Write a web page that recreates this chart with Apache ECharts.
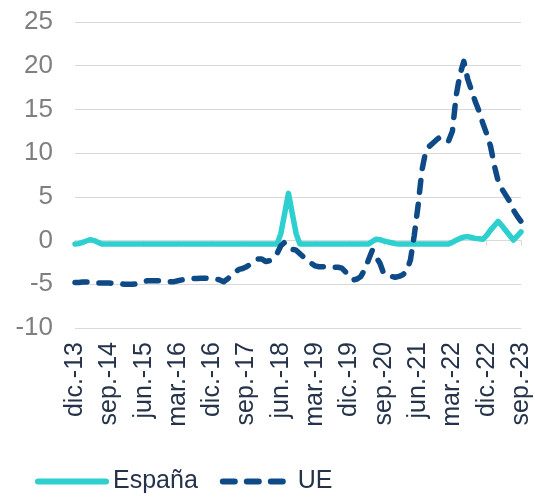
<!DOCTYPE html>
<html>
<head>
<meta charset="utf-8">
<script src="https://cdn.jsdelivr.net/npm/echarts@6/dist/echarts.min.js"></script>
<style>
  html, body { margin: 0; padding: 0; background: #fff; }
  #chart { width: 535px; height: 501px; }
</style>
</head>
<body>
<div id="chart"></div>
<script>
// meses dic.-13 ... sep.-23 (mensual)
const monthNames = ['ene.', 'feb.', 'mar.', 'abr.', 'may.', 'jun.', 'jul.', 'ago.', 'sep.', 'oct.', 'nov.', 'dic.'];
const startYear = 2013;
const startMonth = 11; // dic.
const nMonths = 118;

const categories = [];
for (let i = 0; i < nMonths; i++) {
  const m = (startMonth + i) % 12;
  const y = startYear + Math.floor((startMonth + i) / 12);
  categories.push(monthNames[m] + '-' + String(y).slice(2));
}

const espana = [
  -0.4, -0.35, -0.2, -0.05, 0.1, 0.0, -0.2, -0.4, -0.4, -0.4, -0.4, -0.4,
  -0.4, -0.4, -0.4, -0.4, -0.4, -0.4, -0.4, -0.4, -0.4, -0.4, -0.4, -0.4,
  -0.4, -0.4, -0.4, -0.4, -0.4, -0.4, -0.4, -0.4, -0.4, -0.4, -0.4, -0.4,
  -0.4, -0.4, -0.4, -0.4, -0.4, -0.4, -0.4, -0.4, -0.4, -0.4, -0.4, -0.4,
  -0.4, -0.4, -0.4, -0.4, -0.4, -0.4, 0.8, 3.1, 5.4, 3.1, 0.8, -0.4,
  -0.4, -0.4, -0.4, -0.4, -0.4, -0.4, -0.4, -0.4, -0.4, -0.4, -0.4, -0.4,
  -0.4, -0.4, -0.4, -0.4, -0.4, -0.4, -0.1, 0.15, 0.1, -0.05, -0.15, -0.25,
  -0.35, -0.4, -0.4, -0.4, -0.4, -0.4, -0.4, -0.4, -0.4, -0.4, -0.4, -0.4,
  -0.4, -0.4, -0.4, -0.2, 0.05, 0.25, 0.4, 0.45, 0.35, 0.25, 0.2, 0.15,
  0.6, 1.2, 1.7, 2.2, 1.7, 1.15, 0.6, 0.05, 0.5, 1.0
];

const ue = [
  -4.8, -4.8, -4.75, -4.75, -4.75, -4.8, -4.85, -4.85, -4.85, -4.85, -4.9, -4.9,
  -4.95, -5.0, -5.0, -5.0, -4.95, -4.85, -4.7, -4.6, -4.6, -4.6, -4.6, -4.6,
  -4.65, -4.7, -4.7, -4.6, -4.5, -4.45, -4.4, -4.35, -4.35, -4.3, -4.3, -4.35,
  -4.35, -4.4, -4.5, -4.7, -4.4, -4.0, -3.6, -3.3, -3.2, -3.0, -2.7, -2.4,
  -2.1, -2.1, -2.4, -2.3, -2.1, -1.5, -0.6, -0.2, -0.5, -1.0, -1.1, -1.5,
  -1.9, -2.3, -2.6, -2.9, -3.0, -3.0, -3.0, -3.0, -3.05, -3.05, -3.15, -3.6,
  -4.1, -4.5, -4.4, -4.1, -3.3, -2.2, -1.1, -1.9, -2.6, -3.8, -4.0, -4.1,
  -4.2, -4.1, -3.9, -3.5, -2.2, 0.6, 4.0, 8.0, 10.2, 10.8, 11.2, 11.6,
  11.9, 11.6, 11.4, 12.5, 16.6, 19.0, 20.5, 18.5, 17.2, 15.9, 14.8, 13.4,
  12.2, 10.8, 8.6, 6.8, 5.9, 5.2, 4.5, 3.5, 2.8, 2.2
];

const yMin = -10;
const yMax = 25;
const yStep = 5;

const font = "'Liberation Sans', Arial, sans-serif";
const chart = echarts.init(document.getElementById('chart'));

const option = {
  animation: false,
  grid: { left: 75, right: 14, top: 22, bottom: 173 },
  legend: {
    bottom: 2,
    left: 30,
    itemWidth: 68,
    itemHeight: 14,
    itemGap: 22,
    itemStyle: { opacity: 0 }, // sin símbolo en la leyenda
    lineStyle: { width: 6 },
    textStyle: { fontFamily: font, fontSize: 25, color: '#24324a', padding: [0, 0, 0, 2] },
    data: ['España', 'UE']
  },
  xAxis: [
    {
      type: 'category',
      data: categories,
      boundaryGap: false,
      axisLine: { show: false, onZero: false },
      axisTick: { show: false },
      axisLabel: {
        interval: 8,
        rotate: 90,
        margin: 14,
        fontFamily: font,
        fontSize: 25,
        color: '#24324a'
      },
      splitLine: { show: false }
    },
    {
      // eje en el cero: solo línea y marcas
      type: 'category',
      data: categories,
      boundaryGap: false,
      position: 'top',
      axisLine: { show: true, onZero: true, lineStyle: { color: '#d9d9d9', width: 1 } },
      axisTick: { show: true, inside: true, interval: 8, length: 5, lineStyle: { color: '#d9d9d9' } },
      axisLabel: { show: false },
      splitLine: { show: false }
    }
  ],
  yAxis: {
    type: 'value',
    min: yMin,
    max: yMax,
    interval: yStep,
    axisLine: { show: false },
    axisTick: { show: false },
    axisLabel: { margin: 22, fontFamily: font, fontSize: 26, color: '#7f7f7f' },
    splitLine: { lineStyle: { color: '#d9d9d9', width: 1 } }
  },
  series: [
    {
      name: 'España',
      type: 'line',
      data: espana,
      symbol: 'none',
      lineStyle: { color: '#2ecfcf', width: 5.5, cap: 'round', join: 'round' },
      itemStyle: { color: '#2ecfcf' },
      z: 3
    },
    {
      name: 'UE',
      type: 'line',
      data: ue,
      symbol: 'none',
      lineStyle: { color: '#0e4a86', width: 5.5, type: [12, 12], cap: 'round', join: 'round' },
      itemStyle: { color: '#0e4a86' },
      z: 4
    }
  ]
};

chart.setOption(option);
</script>
</body>
</html>
